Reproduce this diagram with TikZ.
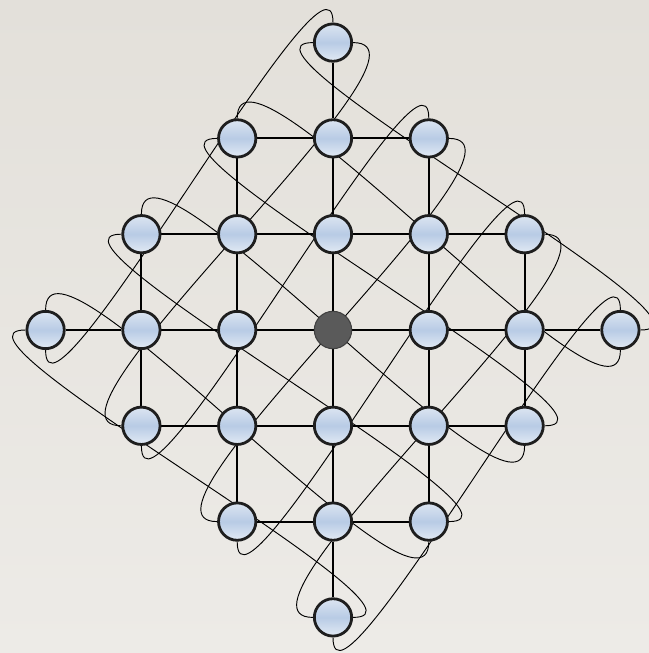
\documentclass[tikz,border=0pt]{standalone}
\usetikzlibrary{backgrounds}
\definecolor{bgtop}{HTML}{E3E0DA}
\definecolor{bgbot}{HTML}{EDEBE7}
\definecolor{ntop}{HTML}{DCE5F1}
\definecolor{nmid}{HTML}{B8CBE5}
\definecolor{nbot}{HTML}{E2EAF4}
\definecolor{nborder}{HTML}{1E1E1E}
\definecolor{hubfill}{HTML}{5A5A5A}
\pgfdeclarelayer{edges}
\pgfsetlayers{background,edges,main}
\tikzset{
  vtx/.style={circle, minimum size=28pt, inner sep=0pt, draw=nborder, line width=2.1pt,
    top color=ntop, bottom color=nbot, middle color=nmid},
  hub/.style={circle, minimum size=28pt, inner sep=0pt, draw=black!75, line width=0.8pt, fill=hubfill},
  gridedge/.style={line width=1.5pt, black},
  wrap/.style={line width=0.7pt, black, looseness=0.6}
}
\begin{document}
\begin{tikzpicture}[x=0.75pt,y=0.75pt]
\begin{scope}[on background layer]
\shade[top color=bgtop, bottom color=bgbot] (-333,-323) rectangle (316,330);
\end{scope}
\useasboundingbox (-333,-323) rectangle (316,330);
\clip (-333,-323) rectangle (316,330);
% nodes a<i+3><j+3>, j measured downward
\foreach \i in {-3,...,3}{
  \pgfmathtruncatemacro{\aj}{3-abs(\i)}
  \foreach \j in {-\aj,...,\aj}{
    \pgfmathtruncatemacro{\ii}{\i+3}
    \pgfmathtruncatemacro{\jj}{\j+3}
    \ifnum\ii=3 \ifnum\jj=3
      \node[hub] (a\ii\jj) at (95.8*\i,-95.8*\j) {};
    \else
      \node[vtx] (a\ii\jj) at (95.8*\i,-95.8*\j) {};
    \fi\else
      \node[vtx] (a\ii\jj) at (95.8*\i,-95.8*\j) {};
    \fi
  }
}
\begin{pgfonlayer}{edges}
% horizontal grid edges
\draw[gridedge] (a03) -- (a13) -- (a23) -- (a33) -- (a43) -- (a53) -- (a63);
\draw[gridedge] (a12) -- (a22) -- (a32) -- (a42) -- (a52);
\draw[gridedge] (a14) -- (a24) -- (a34) -- (a44) -- (a54);
\draw[gridedge] (a21) -- (a31) -- (a41);
\draw[gridedge] (a25) -- (a35) -- (a45);
% vertical grid edges
\draw[gridedge] (a30) -- (a31) -- (a32) -- (a33) -- (a34) -- (a35) -- (a36);
\draw[gridedge] (a21) -- (a22) -- (a23) -- (a24) -- (a25);
\draw[gridedge] (a41) -- (a42) -- (a43) -- (a44) -- (a45);
\draw[gridedge] (a12) -- (a13) -- (a14);
\draw[gridedge] (a52) -- (a53) -- (a54);
% wrap-around edges: right -> left
\draw[wrap] (a30) to[out=0,in=180] (a14);
\draw[wrap] (a41) to[out=0,in=180] (a25);
\draw[wrap] (a52) to[out=0,in=180] (a36);
\draw[wrap] (a63) to[out=0,in=180] (a30);
\draw[wrap] (a54) to[out=0,in=180] (a21);
\draw[wrap] (a45) to[out=0,in=180] (a12);
\draw[wrap] (a36) to[out=0,in=180] (a03);
% wrap-around edges: down -> up
\draw[wrap] (a03) to[out=-90,in=90] (a30);
\draw[wrap] (a14) to[out=-90,in=90] (a41);
\draw[wrap] (a25) to[out=-90,in=90] (a52);
\draw[wrap] (a36) to[out=-90,in=90] (a63);
\draw[wrap] (a45) to[out=-90,in=90] (a03);
\draw[wrap] (a54) to[out=-90,in=90] (a12);
\draw[wrap] (a63) to[out=-90,in=90] (a21);
\end{pgfonlayer}
\end{tikzpicture}
\end{document}
